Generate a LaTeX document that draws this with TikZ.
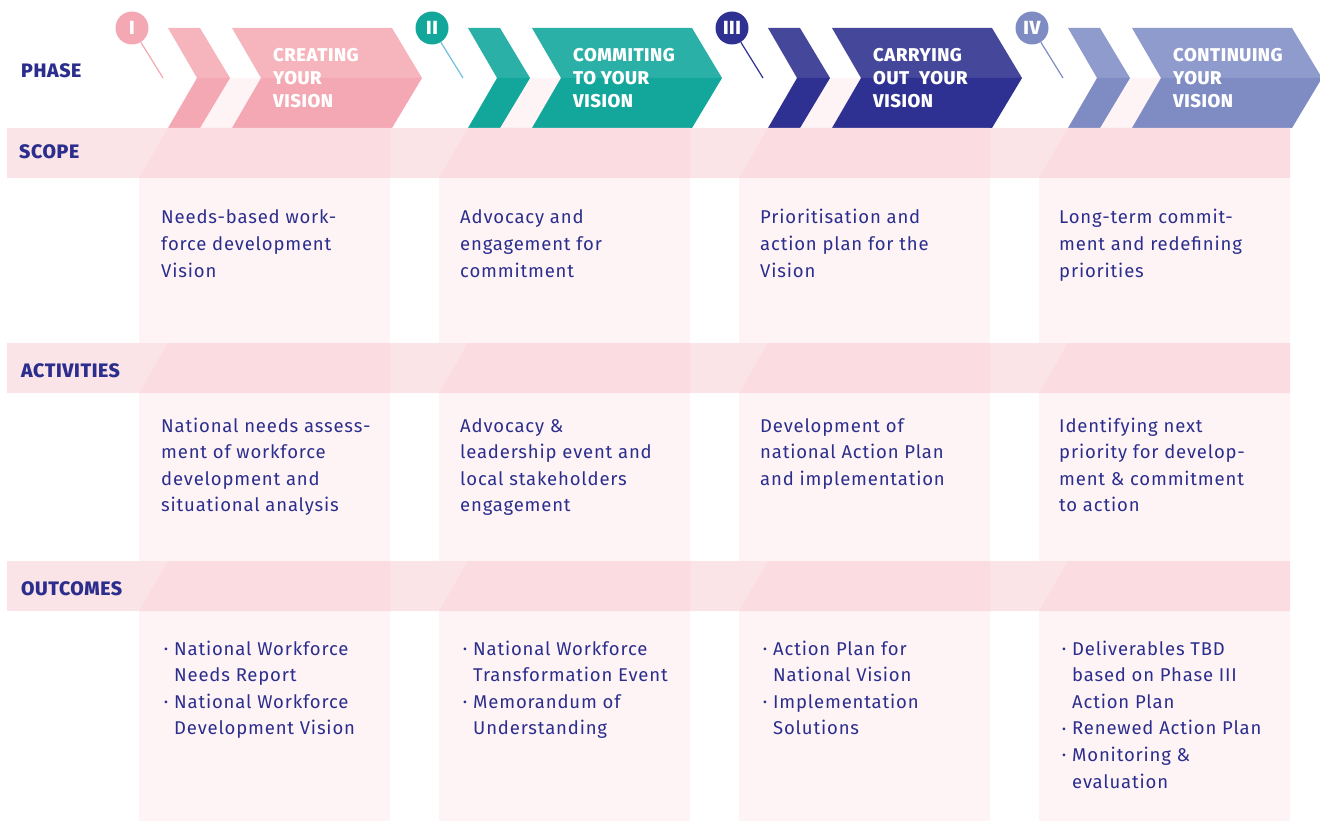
\documentclass[tikz,border=0pt]{standalone}
\usepackage{fontspec}
\setmainfont{Fira Sans}[LetterSpace=4.5]
\newfontfamily\heavyfont{Fira Sans ExtraBold}[LetterSpace=3]
\usetikzlibrary{positioning}

\definecolor{ink}{HTML}{2B2E8C}
\definecolor{colbg}{HTML}{FEF4F6}
\definecolor{bandlt}{HTML}{FBE4E8}
\definecolor{banddk}{HTML}{FBDCE1}
\definecolor{pinkA}{HTML}{F6B4BD}
\definecolor{pinkB}{HTML}{F4A8B3}
\definecolor{tealA}{HTML}{2BB0A7}
\definecolor{tealB}{HTML}{13A79C}
\definecolor{navA}{HTML}{45479B}
\definecolor{navB}{HTML}{2E3192}
\definecolor{periA}{HTML}{8F9BCC}
\definecolor{periB}{HTML}{7F8CC4}
\definecolor{pinII}{HTML}{6CC0E0}

\newcommand{\dotmark}{\makebox[10pt][l]{\raisebox{1.5pt}{\fontsize{12}{12}\selectfont\textbullet}}}
\newcommand{\rows}[1]{\begin{tabular}[t]{@{}l@{}}#1\end{tabular}}
\newcommand{\items}[1]{\begin{tabular}[t]{@{}l@{}l@{}}#1\end{tabular}}

\begin{document}
\begin{tikzpicture}[x=1pt,y=-1pt,
    head/.style={anchor=base west, inner sep=0, text=ink, font=\fontsize{19.5}{22}\selectfont\heavyfont},
    title/.style={anchor=base west, inner sep=0, text=white, font=\fontsize{18.5}{23}\selectfont\heavyfont},
    body/.style={anchor=base west, inner sep=0, text=ink, font=\fontsize{18.5}{26.6}\selectfont},
    num/.style={circle, minimum size=33pt, inner sep=0, text=white, font=\fontsize{19}{19}\selectfont\heavyfont}]
    \useasboundingbox (0,0) rectangle (1320,821);

    % columns
    \foreach \k in {0,...,3}
        \fill[colbg] ({197+300*\k},78) -- ({390+300*\k},78) -- ({390+300*\k},821)
            -- ({139+300*\k},821) -- ({139+300*\k},178) -- cycle;

    % chevrons, two shades each
    \foreach \k/\ca/\cb in {0/pinkA/pinkB, 1/tealA/tealB, 2/navA/navB, 3/periA/periB}{
        \pgfmathsetmacro{\xa}{168+300*\k}
        \pgfmathsetmacro{\xb}{232+300*\k}
        \fill[\ca] (\xa,28) -- (\xa+32,28) -- (\xa+62,78) -- (\xa+29,78) -- cycle;
        \fill[\cb] (\xa+29,78) -- (\xa+62,78) -- (\xa+32,128) -- (\xa,128) -- cycle;
        \fill[\ca] (\xb,28) -- (\xb+160,28) -- (\xb+190,78) -- (\xb+29,78) -- cycle;
        \fill[\cb] (\xb+29,78) -- (\xb+190,78) -- (\xb+160,128) -- (\xb,128) -- cycle;
    }

    % bands
    \foreach \ya/\yb in {128/178, 343/393, 561/611}{
        \fill[bandlt] (7,\ya) rectangle (1290,\yb);
        \foreach \k in {0,...,3}
            \fill[banddk] ({139+300*\k},\yb) -- ({168+300*\k},\ya) -- ({390+300*\k},\ya) -- ({390+300*\k},\yb) -- cycle;
    }

    % phase pins
    \foreach \k/\cc/\cl/\n in {0/pinkB/pinkB/I, 1/tealB/pinII/II, 2/navB/navB/III, 3/periB/periB/IV}{
        \coordinate (pin\n) at ({163+300*\k},78);
        \node[num, fill=\cc] (ph\n) at ({132+300*\k},28) {\n};
        \draw[\cl, line width=1.2pt] (ph\n) -- (pin\n);
    }

    % row heads
    \node[head] (phase) at (21,78) {PHASE};
    \node[head] (scope) at (19,159) {SCOPE};
    \node[head] (activities) at (21,377) {ACTIVITIES};
    \node[head] (outcomes) at (21,595) {OUTCOMES};

    % phase titles
    \node[title] (tI) at (273,62) {\rows{CREATING\\YOUR\\VISION}};
    \node[title] (tII) at (573,62) {\rows{COMMITING\\TO YOUR\\VISION}};
    \node[title] (tIII) at (873,62) {\rows{CARRYING\\OUT\hspace{10pt}YOUR\\VISION}};
    \node[title] (tIV) at (1173,62) {\rows{CONTINUING\\YOUR\\VISION}};

    % scope
    \node[body] (sI) at (161,224) {\rows{Needs-based work-\\force development\\Vision}};
    \node[body] (sII) at (460,224) {\rows{Advocacy and\\engagement for\\commitment}};
    \node[body] (sIII) at (760,224) {\rows{Prioritisation and\\action plan for the\\Vision}};
    \node[body] (sIV) at (1059,224) {\rows{Long-term commit-\\ment and redefining\\priorities}};

    % activities
    \node[body] (aI) at (161,432) {\rows{National needs assess-\\ment of workforce\\development and\\situational analysis}};
    \node[body] (aII) at (460,432) {\rows{Advocacy \&\\leadership event and\\local stakeholders\\engagement}};
    \node[body] (aIII) at (760,432) {\rows{Development of\\national Action Plan\\and implementation}};
    \node[body] (aIV) at (1059,432) {\rows{Identifying next\\priority for develop-\\ment \& commitment\\to action}};

    % outcomes
    \node[body] (oI) at (164,655) {\items{\dotmark & National Workforce\\ & Needs Report\\
        \dotmark & National Workforce\\ & Development Vision}};
    \node[body] (oII) at (463,655) {\items{\dotmark & National Workforce\\ & Transformation Event\\
        \dotmark & Memorandum of\\ & Understanding}};
    \node[body] (oIII) at (763,655) {\items{\dotmark & Action Plan for\\ & National Vision\\
        \dotmark & Implementation\\ & Solutions}};
    \node[body] (oIV) at (1062,655) {\items{\dotmark & Deliverables TBD\\ & based on Phase III\\ & Action Plan\\
        \dotmark & Renewed Action Plan\\ \dotmark & Monitoring \&\\ & evaluation}};
\end{tikzpicture}
\end{document}
